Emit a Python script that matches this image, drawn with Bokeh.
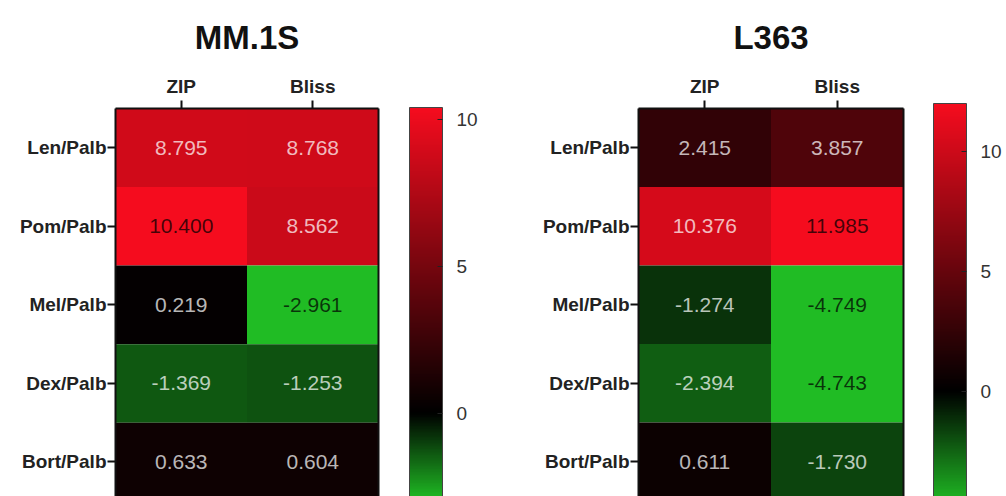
from bokeh.plotting import figure
from bokeh.models import (LinearColorMapper, ColorBar, FixedTicker, Range1d,
                          LinearAxis, ColumnDataSource)
from bokeh.transform import transform
from bokeh.layouts import row
from bokeh.embed import file_html
from bokeh.resources import INLINE

# ---------------- data ----------------
methods = ["ZIP", "Bliss"]
combos = ["Len/Palb", "Pom/Palb", "Mel/Palb", "Dex/Palb", "Bort/Palb"]

mm1s_zip = [8.795, 10.400, 0.219, -1.369, 0.633]
mm1s_bliss = [8.768, 8.562, -2.961, -1.253, 0.604]

l363_zip = [2.415, 10.376, -1.274, -2.394, 0.611]
l363_bliss = [3.857, 11.985, -4.749, -4.743, -1.730]

cbar_ticks = [0, 5, 10]

FONT = "Liberation Sans"
RED = (245, 12, 30)
GREEN = (32, 188, 36)


def make_palette(low, high, n=256):
    pal = []
    for i in range(n):
        v = low + (high - low) * i / (n - 1)
        if v < 0:
            t = v / low
            c = tuple(int(round(g * t)) for g in GREEN)
        else:
            t = v / high
            c = tuple(int(round(r * t)) for r in RED)
        pal.append("#%02x%02x%02x" % c)
    return pal


def panel(title, zip_vals, bliss_vals, width, height, left, top, frame_w,
          row_px, bar_h, bar_gap):
    vals = zip_vals + bliss_vals
    low, high = min(vals), max(vals)
    mapper = LinearColorMapper(palette=make_palette(low, high), low=low, high=high)

    xs, ys, vs, txt, tcol = [], [], [], [], []
    for m, series in zip(methods, [zip_vals, bliss_vals]):
        for i, v in enumerate(series):
            xs.append(m)
            ys.append(i)
            vs.append(v)
            txt.append("%.3f" % v)
            extreme = high if v >= 0 else low
            tcol.append("#000000" if v / extreme > 0.9 else "#ffffff")
    src = ColumnDataSource(dict(x=xs, y=ys, v=vs, t=txt, c=tcol))

    frame_h = height - top
    y_bottom = -0.5 + frame_h / row_px
    p = figure(width=width, height=height, x_range=methods,
               y_range=Range1d(y_bottom, -0.5),
               x_axis_location="above", output_backend="svg",
               toolbar_location=None, min_border_left=left,
               min_border_right=width - left - frame_w,
               min_border_top=top, min_border_bottom=0)
    p.rect(x="x", y="y", width=1, height=1, source=src,
           fill_color=transform("v", mapper), line_color=None)
    p.text(x="x", y="y", text="t", source=src, text_color="c",
           text_alpha=0.72, text_align="center", text_baseline="middle",
           text_font_size="21px", text_font={"value": FONT})

    p.grid.visible = False
    p.outline_line_color = None
    p.background_fill_color = "white"
    p.border_fill_color = "white"

    p.title.text = title
    p.title.align = "center"
    p.title.text_font = FONT
    p.title.text_font_size = "33px"
    p.title.text_font_style = "bold"
    p.title.text_color = "#111111"
    p.title.standoff = 33

    for ax in [p.xaxis[0], p.yaxis[0]]:
        ax.axis_line_width = 2
        ax.axis_line_color = "#111111"
        ax.major_tick_line_color = "#111111"
        ax.major_tick_line_width = 2
        ax.major_tick_in = 0
        ax.major_tick_out = 8
        ax.minor_tick_line_color = None
        ax.major_label_text_font = FONT
        ax.major_label_text_font_size = "19px"
        ax.major_label_text_font_style = "bold"
        ax.major_label_text_color = "#222222"
    p.xaxis.major_label_standoff = 4
    p.yaxis.major_label_standoff = 1
    p.yaxis.ticker = FixedTicker(ticks=list(range(len(combos))))
    p.yaxis.major_label_overrides = {i: c for i, c in enumerate(combos)}

    edge = LinearAxis(ticker=FixedTicker(ticks=[]), axis_line_width=2,
                      axis_line_color="#111111", major_tick_out=0,
                      major_tick_in=0, minor_tick_out=0, minor_tick_in=0,
                      major_label_text_font_size="0px", major_label_standoff=0)
    p.add_layout(edge, "right")

    cb = ColorBar(color_mapper=mapper, ticker=FixedTicker(ticks=cbar_ticks),
                  width=33, height=bar_h, padding=0, margin=0,
                  location=(bar_gap, frame_h - bar_h), label_standoff=14,
                  major_label_text_font=FONT, major_label_text_font_size="19px",
                  major_label_text_color="#333333",
                  major_tick_line_color="#222222", major_tick_in=5,
                  major_tick_out=0, minor_tick_line_color=None,
                  bar_line_color="#444444", bar_line_width=1,
                  background_fill_alpha=0, border_line_color=None)
    p.add_layout(cb, "right")
    return p


p1 = panel("MM.1S", mm1s_zip, mm1s_bliss, width=500, height=496, left=115,
           top=107, frame_w=263, row_px=78.75, bar_h=393, bar_gap=31)
p2 = panel("L363", l363_zip, l363_bliss, width=504, height=496, left=138,
           top=103, frame_w=266, row_px=79.5, bar_h=402, bar_gap=30)

layout = row(p1, p2)
open("out.html", "w").write(file_html(layout, INLINE))
